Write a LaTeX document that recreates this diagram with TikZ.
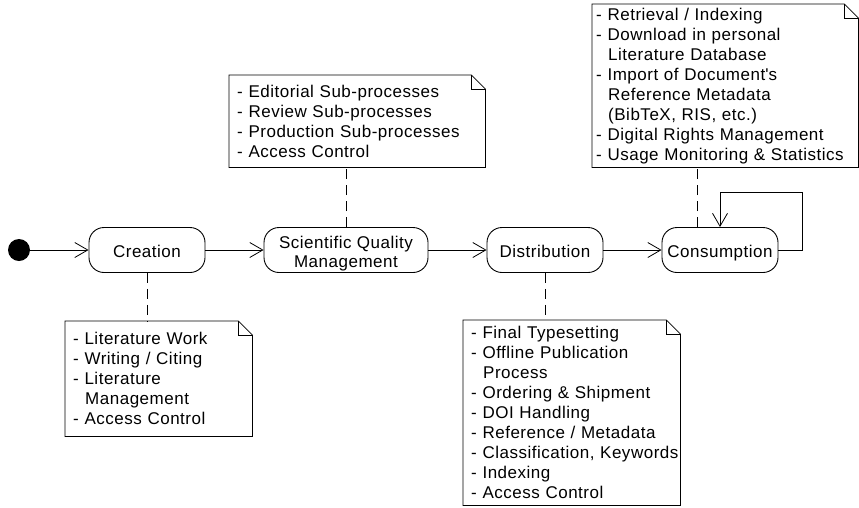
\documentclass[tikz,border=0pt]{standalone}
\usepackage{fontspec}
\setmainfont{Liberation Sans}[LetterSpace=3.0]
\usetikzlibrary{arrows.meta}

\begin{document}
\begin{tikzpicture}[
		x=1pt, y=-1pt,
		statenode/.style={
		% The shape:
		rectangle,
		rounded corners=15pt,
		% The size:
		minimum width=116pt,
		minimum height=45pt,
		% The border:
		line width=0.9pt,
		draw=black,
		% Font
		align=center,
		text height=15pt,
		text depth=0pt,
		font=\fontsize{17}{19}\selectfont
		},
		notenode/.style={
		% The shape (outline is drawn afterwards):
		rectangle,
		anchor=north west,
		inner xsep=8pt,
		% Font
		align=left,
		font=\fontsize{17}{20}\selectfont
		},
		flow/.style={line width=0.8pt, -{Straight Barb[length=13pt,width=15pt]}},
		anchorline/.style={line width=0.8pt, dash pattern=on 10pt off 6pt}
	]
	\useasboundingbox (0,0) rectangle (859,507);

	% states of the publication process
	\node (start) [circle, fill=black, minimum size=22pt, inner sep=0pt] at (19,250) {};
	\node (creation)[statenode] at (147,250) {Creation};
	\node (quality)[statenode, minimum width=164pt, text height=34pt, text depth=0pt] at (346,250) {Scientific Quality\\Management};
	\node (distrib)[statenode] at (545,250) {Distribution};
	\node (consum)[statenode] at (720,250) {Consumption};

	\draw [flow] (start) -- (creation);
	\draw [flow] (creation) -- (quality);
	\draw [flow] (quality) -- (distrib);
	\draw [flow] (distrib) -- (consum);
	\coordinate (loop) at (802,192);
	\draw [flow] (consum.east) -| (loop) -| (consum.north);

	% notes
	\node (creationnote)[notenode, text width=171pt, minimum height=115pt] at (65,321) {
		- Literature Work\\
		- Writing / Citing\\
		- Literature\\
		\hspace*{12pt}Management\\
		- Access Control};
	\node (qualitynote)[notenode, text width=240pt, minimum height=92pt] at (229,75) {
		- Editorial Sub-processes\\
		- Review Sub-processes\\
		- Production Sub-processes\\
		- Access Control};
	\node (distribnote)[notenode, text width=201pt, minimum height=185pt] at (463,320) {
		- Final Typesetting\\
		- Offline Publication\\
		\hspace*{12pt}Process\\
		- Ordering \& Shipment\\
		- DOI Handling\\
		- Reference / Metadata\\
		\mbox{- Classification, Keywords}\\
		- Indexing\\
		- Access Control};
	\node (consumnote)[notenode, inner xsep=4pt, text width=258pt, minimum height=163pt] at (592,4) {
		- Retrieval / Indexing\\
		- Download in personal\\
		\hspace*{12pt}Literature Database\\
		- Import of Document\textquotesingle s\\
		\hspace*{12pt}Reference Metadata\\
		\hspace*{12pt}(BibTeX, RIS, etc.)\\
		- Digital Rights Management\\
		- Usage Monitoring \& Statistics};

	% dog-eared outline of every note
	\foreach \n in {creationnote, qualitynote, distribnote, consumnote} {
		\draw [line width=0.8pt] (\n.north west) -- ([xshift=-14pt]\n.north east)
			-- ([yshift=-14pt]\n.north east) -- (\n.south east) -- (\n.south west) -- cycle;
		\draw [line width=0.8pt] ([xshift=-14pt]\n.north east) |- ([yshift=-14pt]\n.north east);
	}

	\draw [anchorline] (creation.south) -- (creation.south |- creationnote.north);
	\draw [anchorline] (quality.north) -- (quality.north |- qualitynote.south);
	\draw [anchorline] (distrib.south) -- (distrib.south |- distribnote.north);
	\draw [anchorline] ([xshift=-23pt]consum.north) -- ([xshift=-23pt]consum.north |- consumnote.south);
\end{tikzpicture}
\end{document}
